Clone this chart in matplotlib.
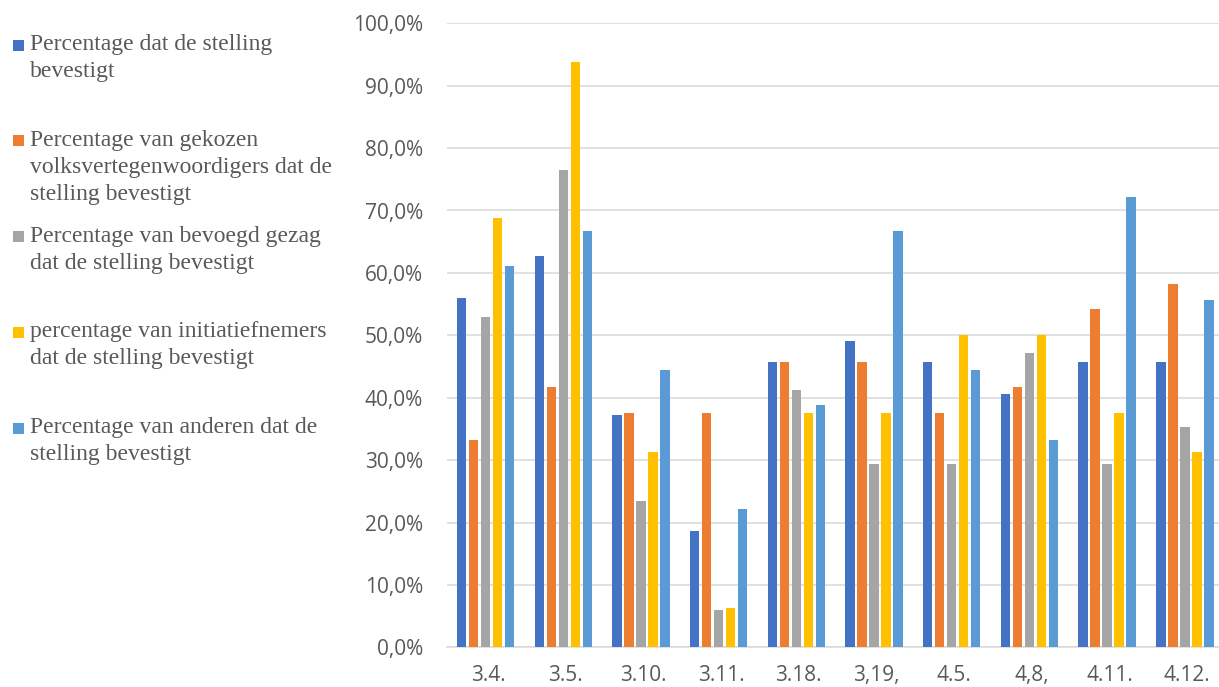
import matplotlib
matplotlib.use("Agg")
import matplotlib.pyplot as plt
from matplotlib.patches import Rectangle
import numpy as np

categories = ["3.4.", "3.5.", "3.10.", "3.11.", "3.18.", "3,19,", "4.5.", "4,8,", "4.11.", "4.12."]

series_names = [
    ["Percentage dat de stelling", "bevestigt"],
    ["Percentage van gekozen", "volksvertegenwoordigers dat de", "stelling bevestigt"],
    ["Percentage van bevoegd gezag", "dat de stelling bevestigt"],
    ["percentage van initiatiefnemers", "dat de stelling bevestigt"],
    ["Percentage van anderen dat de", "stelling bevestigt"],
]

pct_total = [55.9, 62.7, 37.2, 18.7, 45.8, 49.1, 45.8, 40.6, 45.8, 45.8]
pct_elected = [33.3, 41.7, 37.5, 37.5, 45.8, 45.8, 37.5, 41.7, 54.2, 58.3]
pct_authority = [52.9, 76.5, 23.5, 5.9, 41.2, 29.4, 29.4, 47.1, 29.4, 35.3]
pct_initiators = [68.75, 93.75, 31.25, 6.25, 37.5, 37.5, 50.0, 50.0, 37.5, 31.25]
pct_others = [61.1, 66.7, 44.4, 22.2, 38.9, 66.7, 44.4, 33.3, 72.2, 55.6]

series_values = [pct_total, pct_elected, pct_authority, pct_initiators, pct_others]
colors = ["#4472C4", "#ED7D31", "#A5A5A5", "#FFC000", "#5B9BD5"]

W, H = 1219, 687
fig = plt.figure(figsize=(W / 100, H / 100), dpi=100)
ax = fig.add_axes([446.7 / W, 39.7 / H, 777 / W, 624 / H])

x = np.arange(len(categories))
pitch = 0.1545
bar_w = 0.122
for i, (vals, col) in enumerate(zip(series_values, colors)):
    ax.bar(x + (i - 2) * pitch, vals, width=bar_w, color=col, zorder=3)

ax.set_xlim(-0.5, len(categories) - 0.5)
ax.set_ylim(0, 100)
ax.set_yticks(np.arange(0, 101, 10))
ax.set_yticklabels([f"{v:.1f}%".replace(".", ",") for v in np.arange(0, 101, 10)])
ax.set_xticks(x + 0.03)
ax.set_xticklabels(categories)

tick_font = dict(family="Open Sans", size=15, color="#595959")
for lab in ax.get_yticklabels() + ax.get_xticklabels():
    lab.set_fontfamily(tick_font["family"])
    lab.set_fontsize(tick_font["size"])
    lab.set_color(tick_font["color"])
ax.tick_params(axis="both", length=0)
ax.tick_params(axis="y", pad=17)
ax.tick_params(axis="x", pad=13)

ax.grid(axis="y", color="#D9D9D9", linewidth=1.1, zorder=0)
ax.set_axisbelow(True)
for side in ["top", "right", "left"]:
    ax.spines[side].set_visible(False)
ax.spines["bottom"].set_color("#D9D9D9")
ax.spines["bottom"].set_linewidth(1.1)

# Legend drawn on the left, one block of wrapped lines per series
first_baseline = 50.0
block_step = 95.8
line_step = 27.0
text_x = 30
for i, (lines, col) in enumerate(zip(series_names, colors)):
    base = first_baseline + i * block_step
    fig.patches.append(Rectangle((13 / W, 1 - (base + 0.5) / H), 11 / W, 11 / H,
                                 transform=fig.transFigure, facecolor=col,
                                 edgecolor="none"))
    for j, line in enumerate(lines):
        fig.text(text_x / W, 1 - (base + j * line_step) / H, line,
                 family="Liberation Serif", fontsize=17, color="#595959",
                 ha="left", va="baseline")

fig.savefig("out.png", dpi=100)
